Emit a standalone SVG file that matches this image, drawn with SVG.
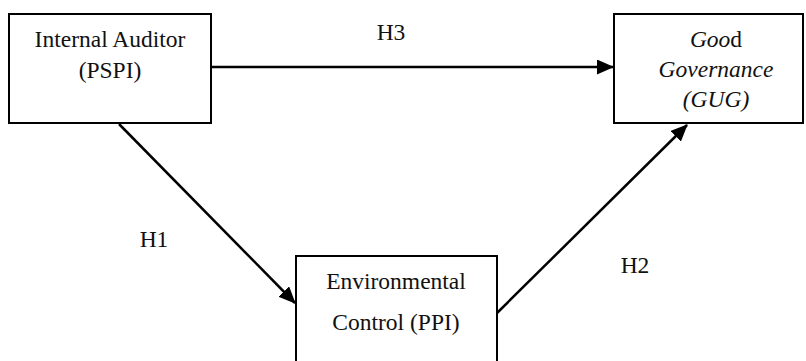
<svg xmlns="http://www.w3.org/2000/svg" width="806" height="361" viewBox="0 0 806 361">
<style>
.box{fill:#fff;stroke:#000;stroke-width:2}
.t{font-family:"Liberation Serif","Times New Roman",serif;font-size:23.5px;fill:#111;text-anchor:middle}
.c{stroke:#000;stroke-width:2.5;fill:none;marker-end:url(#ah)}
</style>
<defs>
<marker id="ah" markerWidth="17" markerHeight="15" refX="16" refY="7.5" orient="auto" markerUnits="userSpaceOnUse">
<path d="M0,0 L17,7.5 L0,15 Z" fill="#000"/>
</marker>
</defs>
<rect width="806" height="361" fill="#fff"/>
<g id="connectors">
<line class="c" x1="211" y1="67" x2="613" y2="67"/>
<line class="c" x1="119" y1="124" x2="295" y2="303"/>
<line class="c" x1="497" y1="313" x2="687" y2="125"/>
</g>
<g id="internal-auditor">
<rect class="box" x="9" y="14" width="202" height="109"/>
<text class="t" x="110" y="47">Internal Auditor</text>
<text class="t" x="110" y="78">(PSPI)</text>
</g>
<g id="good-governance">
<rect class="box" x="614" y="14" width="189" height="109"/>
<text class="t" x="716" y="47"><tspan font-style="italic">Goo</tspan>d</text>
<text class="t" x="716" y="77" font-style="italic">Governance</text>
<text class="t" x="716" y="107" font-style="italic">(GUG)</text>
</g>
<g id="environmental-control">
<rect class="box" x="296" y="256" width="201" height="110"/>
<text class="t" x="396" y="289">Environmental</text>
<text class="t" x="396" y="330">Control (PPI)</text>
</g>
<g id="labels">
<text class="t" x="391" y="40">H3</text>
<text class="t" x="154" y="247">H1</text>
<text class="t" x="635" y="273">H2</text>
</g>
</svg>
